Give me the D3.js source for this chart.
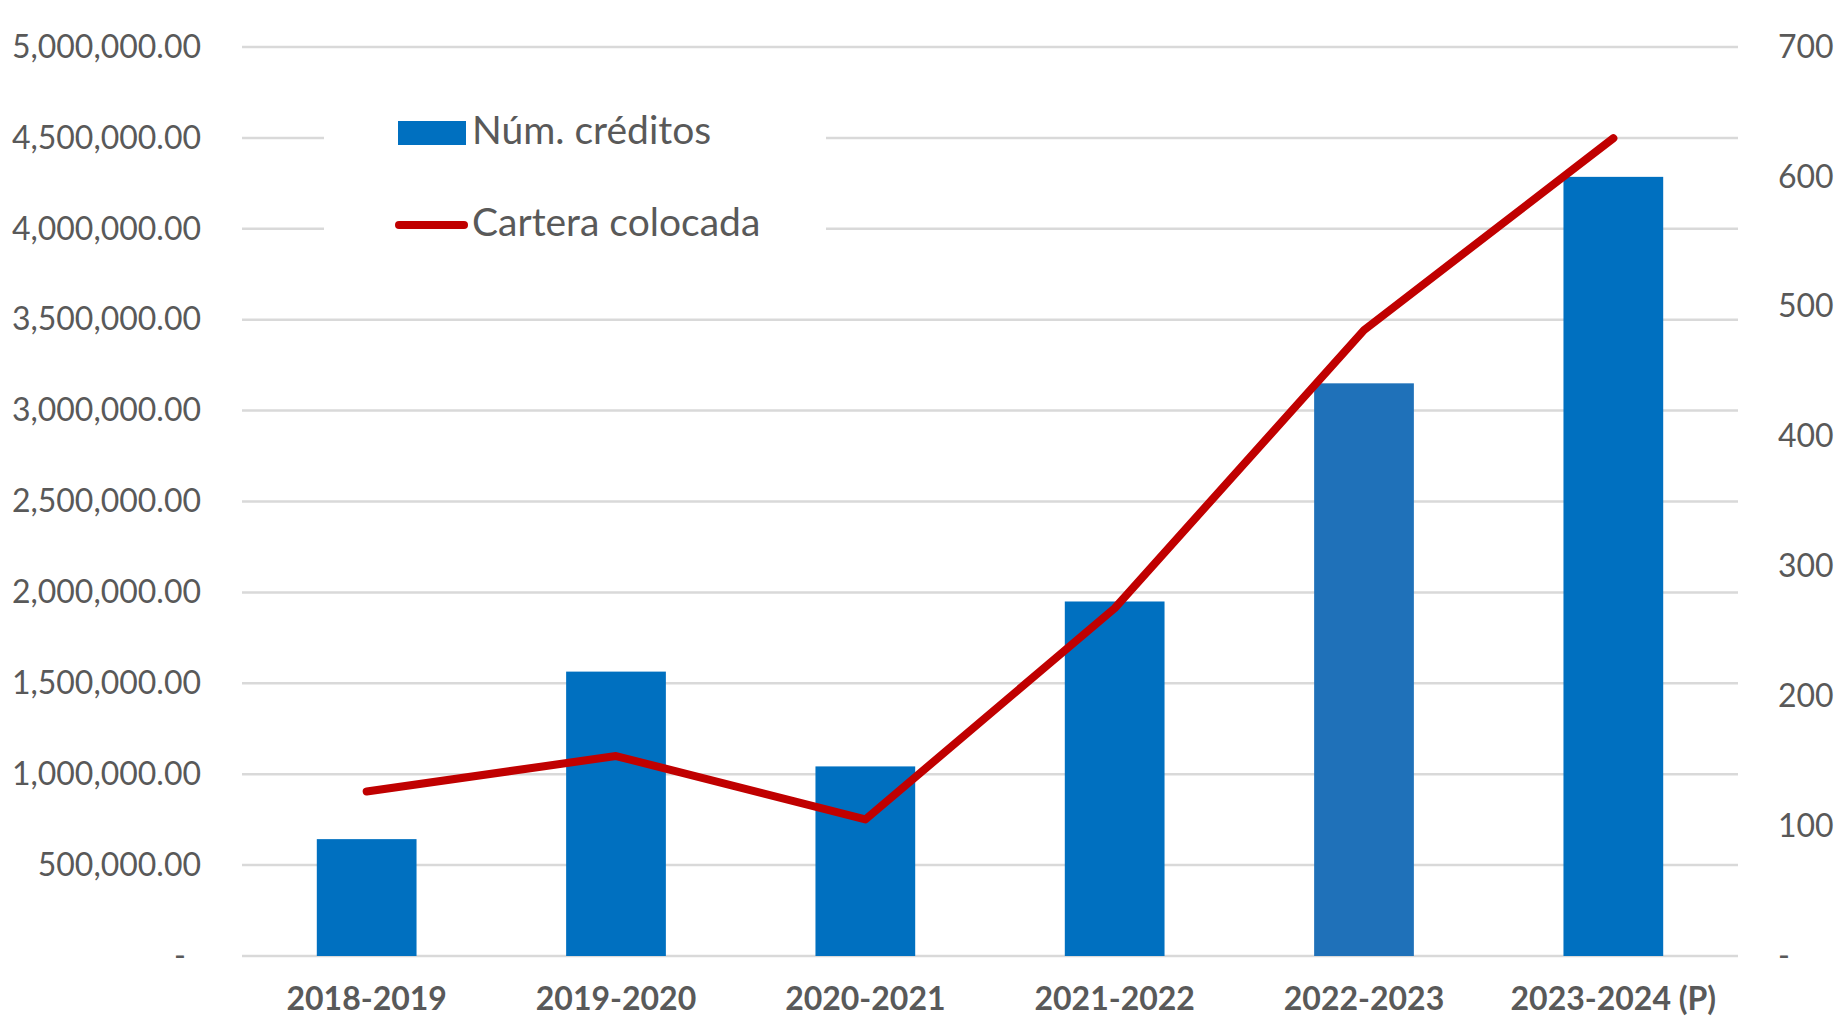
<!DOCTYPE html>
<html>
<head>
<meta charset="utf-8">
<script src="https://cdn.jsdelivr.net/npm/d3@7"></script>
<style>
  html, body { margin: 0; padding: 0; background: #fff; }
  svg { display: block; font-family: "Lato", "Open Sans", sans-serif; }
</style>
</head>
<body>
<svg id="chart"></svg>
<script>
// data
const categories = ['2018-2019', '2019-2020', '2020-2021', '2021-2022', '2022-2023', '2023-2024 (P)'];
const creditos = [90, 219, 146, 273, 441, 600];                              // Núm. créditos (right axis)
const cartera = [905000, 1100000, 751000, 1913000, 3443000, 4498000];     // Cartera colocada (left axis)
const leftTicks = [0, 500000, 1000000, 1500000, 2000000, 2500000, 3000000, 3500000, 4000000, 4500000, 5000000];
const rightTicks = [0, 100, 200, 300, 400, 500, 600, 700];
const barColors = ['#0070c0', '#0070c0', '#0070c0', '#0070c0', '#1f71b9', '#0070c0'];

class ComboChart {

    constructor( config ) {
        this.config = {
            parent: config.parent,
            width: config.width || 1836,
            height: config.height || 1019,
            margin: config.margin || {top:47, right:98, bottom:63, left:242}
        }
        this.init();
    }

    init() {
        let self = this;

        self.svg = d3.select( self.config.parent )
            .attr('width', self.config.width)
            .attr('height', self.config.height);

        self.chart = self.svg.append('g')
            .attr('transform', `translate(${self.config.margin.left}, ${self.config.margin.top})`);

        self.inner_width = self.config.width - self.config.margin.left - self.config.margin.right;
        self.inner_height = self.config.height - self.config.margin.top - self.config.margin.bottom;

        self.xscale = d3.scaleBand()
            .domain( categories )
            .range( [0, self.inner_width] )
            .padding(0);

        self.yleft = d3.scaleLinear()
            .domain( [0, 5000000] )
            .range( [self.inner_height, 0] );

        self.yright = d3.scaleLinear()
            .domain( [0, 700] )
            .range( [self.inner_height, 0] );

        self.grid_group = self.chart.append('g');
        self.legend_group = self.chart.append('g');
        self.bar_group = self.chart.append('g');
        self.line_group = self.chart.append('g');
        self.xaxis_group = self.chart.append('g')
            .attr('transform', `translate(0, ${self.inner_height})`);
        self.yleft_group = self.chart.append('g');
        self.yright_group = self.chart.append('g')
            .attr('transform', `translate(${self.inner_width}, 0)`);
    }

    render() {
        let self = this;
        const textColor = '#595959';

        // gridlines
        self.grid_group.selectAll('line')
            .data(leftTicks)
            .join('line')
            .attr('x1', 0)
            .attr('x2', self.inner_width)
            .attr('y1', d => self.yleft(d))
            .attr('y2', d => self.yleft(d))
            .attr('stroke', '#d9d9d9')
            .attr('stroke-width', 2.5);

        // legend (white box hides the gridlines behind it)
        const lg = self.legend_group;
        lg.append('rect')
            .attr('x', 82).attr('y', 45)
            .attr('width', 502).attr('height', 175)
            .attr('fill', '#fff');
        lg.append('rect')
            .attr('x', 156).attr('y', 74)
            .attr('width', 68).attr('height', 24)
            .attr('fill', '#0070c0');
        lg.append('line')
            .attr('x1', 157).attr('x2', 222)
            .attr('y1', 178).attr('y2', 178)
            .attr('stroke', '#c00000')
            .attr('stroke-width', 8)
            .attr('stroke-linecap', 'round');
        lg.selectAll('text')
            .data(['Núm. créditos', 'Cartera colocada'])
            .join('text')
            .attr('x', 230)
            .attr('y', (d, i) => i === 0 ? 97 : 189)
            .attr('fill', textColor)
            .attr('font-size', '39px')
            .text(d => d);

        // bars
        const bw = self.xscale.bandwidth() * 0.4;
        self.bar_group.selectAll('rect')
            .data(creditos)
            .join('rect')
            .attr('x', (d, i) => self.xscale(categories[i]) + (self.xscale.bandwidth() - bw) / 2)
            .attr('y', d => self.yright(d))
            .attr('width', bw)
            .attr('height', d => self.inner_height - self.yright(d))
            .attr('fill', (d, i) => barColors[i]);

        // line
        const line = d3.line()
            .x((d, i) => self.xscale(categories[i]) + self.xscale.bandwidth() / 2)
            .y(d => self.yleft(d));

        self.line_group.append('path')
            .datum(cartera)
            .attr('d', line)
            .attr('fill', 'none')
            .attr('stroke', '#c00000')
            .attr('stroke-width', 8)
            .attr('stroke-linejoin', 'round')
            .attr('stroke-linecap', 'round');

        // axes
        const fmt = d3.format(',.2f');
        self.yleft_group
            .call( d3.axisLeft(self.yleft).tickValues(leftTicks).tickSize(0).tickPadding(41)
                .tickFormat(d => d === 0 ? '-' : fmt(d)) );
        self.yleft_group.selectAll('.tick').filter(d => d === 0).select('text').attr('x', -56);

        self.yright_group
            .call( d3.axisRight(self.yright).tickValues(rightTicks).tickSize(0).tickPadding(40)
                .tickFormat(d => d === 0 ? '-' : d) );

        self.xaxis_group
            .call( d3.axisBottom(self.xscale).tickSize(0).tickPadding(31) );

        self.chart.selectAll('.domain').remove();
        [self.yleft_group, self.yright_group].forEach(g => g.selectAll('text')
            .attr('fill', textColor)
            .attr('font-size', '32px')
            .attr('font-family', '"Lato", "Open Sans", sans-serif'));
        self.xaxis_group.selectAll('text')
            .attr('fill', textColor)
            .attr('font-size', '32px')
            .attr('font-weight', 'bold')
            .attr('font-family', '"Lato", "Open Sans", sans-serif');
    }
}

const chart = new ComboChart({ parent: '#chart' });
chart.render();
</script>
</body>
</html>
